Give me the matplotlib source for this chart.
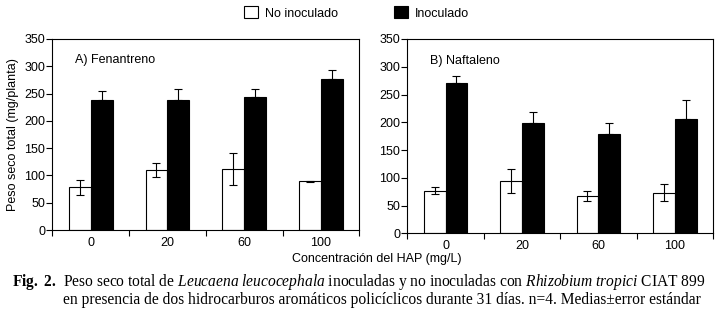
import numpy as np
import matplotlib
matplotlib.use('Agg')
import matplotlib.pyplot as plt
from matplotlib.patches import Patch

plt.rcParams['font.family'] = 'Liberation Sans'
plt.rcParams['mathtext.fontset'] = 'custom'
plt.rcParams['mathtext.rm'] = 'Liberation Serif'
plt.rcParams['mathtext.it'] = 'Liberation Serif:italic'
plt.rcParams['mathtext.bf'] = 'Liberation Serif:bold'

# datos
conc = ['0', '20', '60', '100']

fen_no = [78, 110, 112, 89]
fen_no_err = [13, 12, 29, 1]
fen_ino = [238, 238, 244, 277]
fen_ino_err = [16, 20, 14, 16]

naf_no = [77, 94, 68, 73]
naf_no_err = [7, 21, 9, 15]
naf_ino = [271, 198, 178, 205]
naf_ino_err = [13, 20, 21, 36]

fig = plt.figure(figsize=(7.19, 3.22), dpi=100)
ax1 = fig.add_axes([0.0727, 0.2857, 0.4271, 0.5932])
ax2 = fig.add_axes([0.5665, 0.2755, 0.4252, 0.6034])

w = 0.285
ekw = dict(ecolor='black', elinewidth=0.8, capthick=0.8, capsize=2.6)

def panel(ax, no, no_err, ino, ino_err, title):
    x = np.arange(len(conc))
    ax.bar(x - w, no, w, align='edge', color='white', edgecolor='black',
           linewidth=0.8, zorder=2)
    ax.bar(x, ino, w, align='edge', color='black', edgecolor='black',
           linewidth=0.8, zorder=2)
    ax.errorbar(x - w / 2, no, yerr=no_err, fmt='none', zorder=3, **ekw)
    ax.errorbar(x + w / 2, ino, yerr=[np.zeros(len(ino)), ino_err],
                fmt='none', zorder=3, **ekw)
    ax.set_xlim(-0.5, 3.5)
    ax.set_ylim(0, 350)
    ax.set_yticks(np.arange(0, 351, 50))
    ax.set_xticks(np.arange(-0.5, 3.6, 1))
    ax.set_xticklabels([])
    ax.set_xticks(x, minor=True)
    ax.set_xticklabels(conc, minor=True)
    ax.tick_params(axis='x', which='major', length=4, width=0.8)
    ax.tick_params(axis='x', which='minor', length=0, pad=5, labelsize=9)
    ax.tick_params(axis='y', length=4, width=0.8, labelsize=9, pad=1)
    for s in ax.spines.values():
        s.set_linewidth(0.8)
    ax.text(-0.2, 311, title, fontsize=9, va='center')

panel(ax1, fen_no, fen_no_err, fen_ino, fen_ino_err, 'A) Fenantreno')
panel(ax2, naf_no, naf_no_err, naf_ino, naf_ino_err, 'B) Naftaleno')

ax1.set_ylabel('Peso seco total (mg/planta)', fontsize=9, labelpad=4)
fig.text(377 / 719, 1 - 259 / 322, 'Concentración del HAP (mg/L)',
         fontsize=9, ha='center', va='center')

handles = [Patch(facecolor='white', edgecolor='black', linewidth=0.8),
           Patch(facecolor='black', edgecolor='black', linewidth=0.8)]
fig.legend(handles, ['No inoculado', 'Inoculado'], ncol=2, frameon=False,
           loc='center', bbox_to_anchor=(0.496, 1 - 13 / 322), fontsize=9,
           handlelength=1.1, handleheight=1.1, handletextpad=0.6,
           columnspacing=4.45)

fig.text(12 / 719, 1 - 282 / 322, r'$\mathbf{Fig.\ 2.}$', fontsize=11.2,
         va='center', family='Liberation Serif')
fig.text(63 / 719, 1 - 282 / 322,
         r'Peso seco total de $\mathit{Leucaena\ leucocephala}$ inoculadas y no '
         r'inoculadas con $\mathit{Rhizobium\ tropici}$ CIAT 899',
         fontsize=11.2, va='center', family='Liberation Serif')
fig.text(63 / 719, 1 - 300 / 322,
         'en presencia de dos hidrocarburos aromáticos policíclicos durante '
         '31 días. n=4. Medias±error estándar',
         fontsize=11.2, va='center', family='Liberation Serif')

fig.savefig('out.png', dpi=100)
